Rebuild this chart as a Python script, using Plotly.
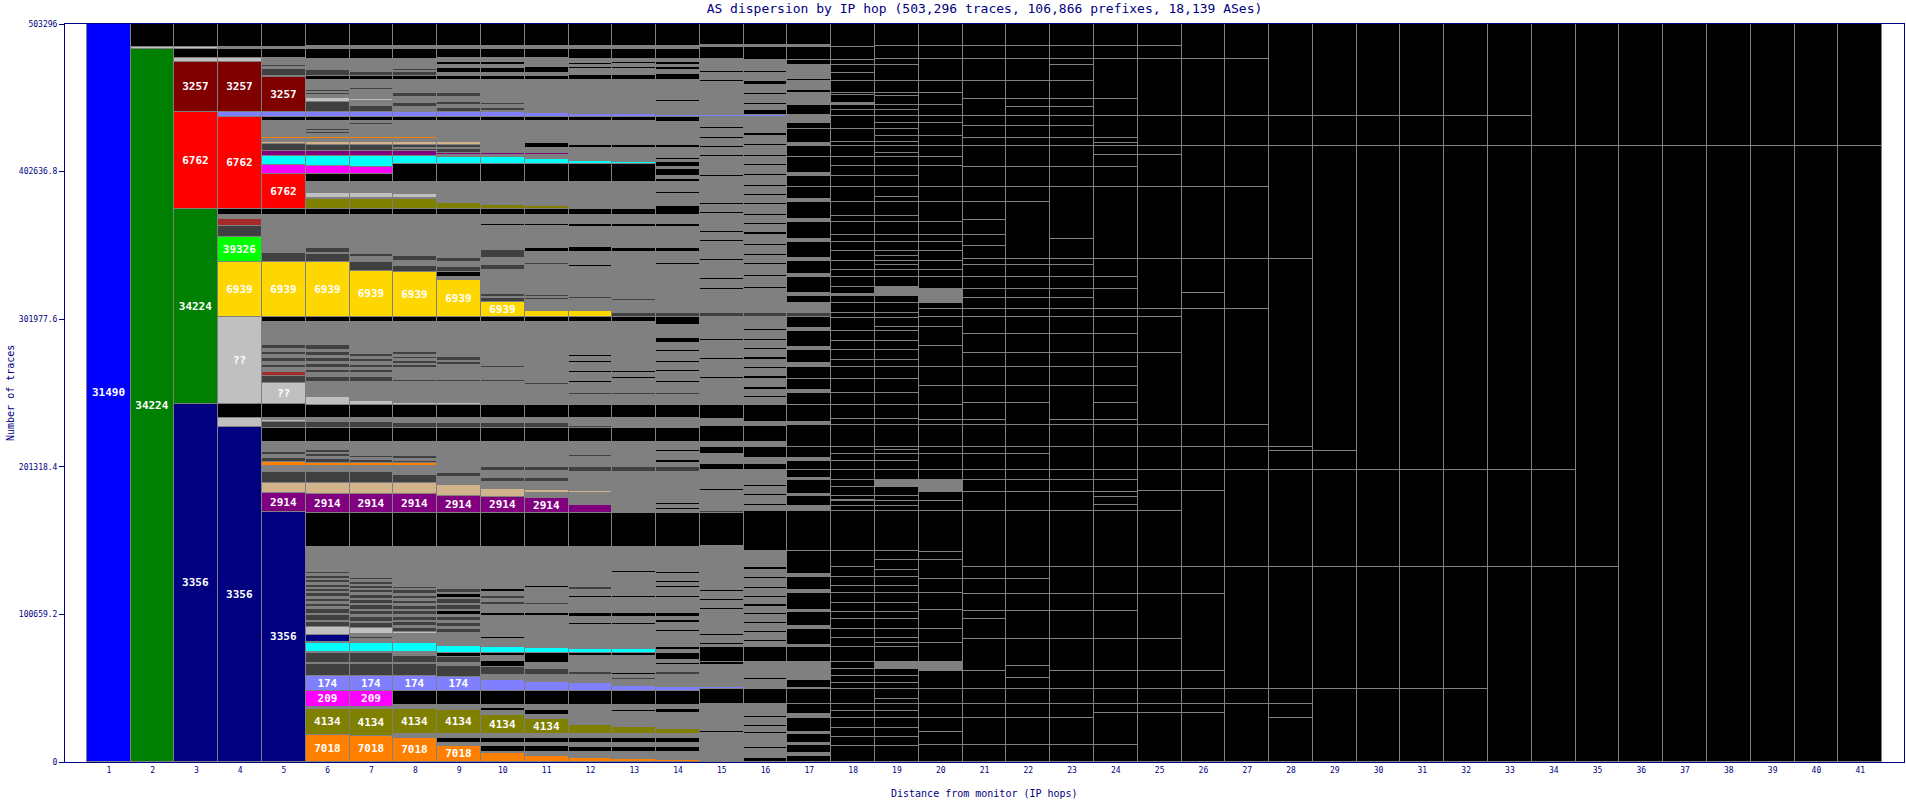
import plotly.graph_objects as go

TOTAL = 503.296  # thousands of traces
hops = list(range(1, 42))
y_ticks = [0, 100659.2, 201318.4, 301977.6, 402636.8, 503296]
y_ticktext = ["0", "100659.2", "201318.4", "301977.6", "402636.8", "503296"]

COLORS = {'B': '#0000ff', 'G': '#008000', 'N': '#000080', 'R': '#ff0000', 'DR': '#800000',
          'Y': '#ffd700', 'LG': '#00ff00', 'Q': '#c0c0c0', 'P': '#800080', 'T': '#d2b48c',
          'O': '#ff8000', 'OL': '#808000', 'M': '#ff00ff', 'LB': '#8080ff', 'C': '#00ffff',
          'BR': '#a52a2a', 'g': '#808080', 'd': '#404040', 'k': '#000000'}

# each hop: cumulative segment tops (thousands of traces), bottom -> top, colour code, optional AS label
hop01 = [(503.296, 'B', '31490')]
hop02 = [(486.3, 'G', '34224'), (487.9, 'Q'), (503.296, 'k')]
hop03 = [(244.0, 'N', '3356'), (377.4, 'G', '34224'), (443.5, 'R', '6762'), (477.6, 'DR', '3257'),
         (479.9, 'Q'), (486.3, 'k'), (487.9, 'Q'), (503.296, 'k')]
hop04 = [(228.7, 'N', '3356'), (234.4, 'Q'), (244.0, 'k'), (303.3, 'Q', '??'), (341.2, 'Y', '6939'),
         (358.1, 'LG', '39326'), (365.6, 'd'), (370.3, 'BR'), (373.1, 'g'), (377.4, 'k'),
         (439.7, 'R', '6762'), (443.5, 'LB'), (477.6, 'DR', '3257'), (479.9, 'Q'), (486.3, 'k'),
         (487.9, 'g'), (503.296, 'k')]
hop05 = [(170.7, 'N', '3356'), (183.3, 'P', '2914'), (190.5, 'T'), (198.0, 'd'), (201.9, 'g'), (204.4, 'O'),
         (207.0, 'd'), (209.5, 'g'), (211.5, 'd'), (213.5, 'g'), (213.9, 'M'), (218.0, 'g'), (228.0, 'k'),
         (232.1, 'd'), (233.4, 'Q'), (234.4, 'g'), (244.0, 'k'), (258.7, 'Q', '??'), (263.3, 'd'),
         (266.2, 'BR'), (268.5, 'g'), (271.0, 'd'), (273.0, 'g'), (275.5, 'd'), (277.5, 'g'), (279.5, 'd'),
         (281.5, 'g'), (284.4, 'd'), (300.3, 'g'), (303.3, 'k'), (341.2, 'Y', '6939'), (346.9, 'd'),
         (373.1, 'g'), (377.4, 'k'), (400.8, 'R', '6762'), (407.2, 'M'), (413.5, 'C'), (416.7, 'P'),
         (421.5, 'd'), (423.0, 'T'), (424.9, 'g'), (426.5, 'O'), (428.0, 'g'), (429.0, 'Q'), (437.2, 'g'),
         (439.7, 'k'), (443.5, 'LB'), (467.4, 'DR', '3257'), (468.0, 'k'), (472.6, 'd'), (474.0, 'g'),
         (475.0, 'd'), (478.1, 'g'), (478.8, 'Y'), (479.9, 'g'), (486.3, 'k'), (487.9, 'g'), (503.296, 'k')]
hop06 = [(18.4, 'O', '7018'), (36.1, 'OL', '4134'), (37.3, 'g'), (48.6, 'M', '209'), (58.9, 'LB', '174'),
         (66.6, 'd'), (67.3, 'g'), (74.1, 'd'), (75.2, 'g'), (81.0, 'C'), (82.0, 'g'), (86.6, 'N'), (92.3, 'Q'),
         (95.5, 'd'), (96.5, 'g'), (100.0, 'd'), (101.0, 'g'), (104.5, 'd'), (105.5, 'g'), (108.0, 'd'),
         (109.0, 'g'), (111.5, 'd'), (112.5, 'g'), (115.0, 'd'), (116.0, 'g'), (118.0, 'd'), (119.0, 'g'),
         (121.0, 'd'), (122.0, 'g'), (124.0, 'd'), (125.0, 'g'), (127.0, 'd'), (128.0, 'g'), (129.5, 'd'),
         (130.9, 'g'), (146.8, 'g'), (169.6, 'k'), (182.8, 'P', '2914'), (190.1, 'T'), (197.6, 'd'),
         (201.9, 'g'), (204.1, 'O'), (206.5, 'd'), (208.0, 'g'), (210.0, 'd'), (211.0, 'g'), (212.8, 'd'),
         (218.0, 'g'), (227.6, 'k'), (231.7, 'd'), (234.4, 'g'), (243.5, 'k'), (248.7, 'Q'), (259.0, 'g'),
         (262.8, 'd'), (265.0, 'g'), (267.5, 'd'), (269.0, 'g'), (271.5, 'd'), (273.0, 'g'), (275.5, 'd'),
         (277.0, 'g'), (279.5, 'd'), (281.0, 'g'), (284.4, 'd'), (300.3, 'g'), (303.3, 'k'),
         (341.2, 'Y', '6939'), (346.3, 'd'), (347.4, 'g'), (350.3, 'd'), (373.1, 'g'), (377.4, 'k'),
         (384.0, 'OL'), (384.9, 'g'), (388.3, 'Q'), (390.5, 'g'), (391.5, 'd'), (395.8, 'g'), (401.0, 'k'),
         (406.7, 'M'), (413.5, 'C'), (416.7, 'P'), (420.8, 'd'), (423.0, 'T'), (424.9, 'g'), (426.5, 'O'),
         (428.5, 'g'), (429.5, 'd'), (430.5, 'g'), (431.5, 'd'), (437.4, 'g'), (439.7, 'k'), (443.5, 'LB'),
         (449.9, 'd'), (453.1, 'Q'), (455.0, 'g'), (456.0, 'd'), (457.0, 'g'), (458.3, 'd'), (465.1, 'g'),
         (467.9, 'k'), (471.9, 'd'), (477.9, 'g'), (478.8, 'Y'), (479.4, 'g'), (486.3, 'k'), (488.3, 'g'),
         (503.296, 'k')]
hop07 = [(17.9, 'O', '7018'), (36.1, 'OL', '4134'), (37.3, 'g'), (48.6, 'M', '209'), (58.9, 'LB', '174'),
         (66.6, 'd'), (67.3, 'g'), (74.1, 'd'), (75.2, 'g'), (81.0, 'C'), (84.0, 'g'), (85.0, 'd'), (87.1, 'g'),
         (91.6, 'Q'), (94.5, 'd'), (95.5, 'g'), (99.0, 'd'), (100.0, 'g'), (103.0, 'd'), (104.0, 'g'),
         (107.0, 'd'), (108.0, 'g'), (110.5, 'd'), (111.5, 'g'), (114.0, 'd'), (115.0, 'g'), (117.0, 'd'),
         (118.0, 'g'), (120.0, 'd'), (121.0, 'g'), (123.0, 'd'), (124.0, 'g'), (125.3, 'd'), (126.4, 'g'),
         (146.8, 'g'), (169.6, 'k'), (182.8, 'P', '2914'), (190.1, 'T'), (197.6, 'd'), (201.9, 'g'),
         (204.1, 'O'), (206.0, 'd'), (207.0, 'g'), (208.5, 'd'), (218.0, 'g'), (227.6, 'k'), (231.7, 'd'),
         (234.4, 'g'), (243.5, 'k'), (246.4, 'Q'), (259.0, 'g'), (262.6, 'd'), (265.0, 'g'), (267.0, 'd'),
         (268.5, 'g'), (271.0, 'd'), (272.5, 'g'), (275.0, 'd'), (276.5, 'g'), (278.5, 'd'), (281.0, 'g'),
         (300.3, 'g'), (303.3, 'k'), (335.1, 'Y', '6939'), (341.0, 'd'), (344.4, 'g'), (346.4, 'd'),
         (373.1, 'g'), (377.4, 'k'), (384.0, 'OL'), (384.9, 'g'), (387.9, 'Q'), (390.0, 'g'), (391.0, 'd'),
         (395.8, 'g'), (401.0, 'k'), (405.6, 'M'), (413.5, 'C'), (416.7, 'P'), (420.8, 'd'), (423.0, 'T'),
         (424.9, 'g'), (426.5, 'O'), (434.5, 'g'), (435.5, 'd'), (437.4, 'g'), (439.7, 'k'), (443.5, 'LB'),
         (447.4, 'd'), (450.8, 'g'), (452.0, 'Q'), (456.0, 'g'), (457.0, 'd'), (458.5, 'g'), (459.5, 'd'),
         (465.1, 'g'), (467.9, 'k'), (470.8, 'd'), (477.9, 'g'), (478.8, 'Y'), (479.4, 'g'), (486.3, 'k'),
         (488.3, 'g'), (503.296, 'k')]
hop08 = [(16.6, 'O', '7018'), (19.1, 'g'), (36.1, 'OL', '4134'), (38.9, 'g'), (48.6, 'k'), (58.9, 'LB', '174'),
         (66.6, 'd'), (67.5, 'g'), (72.5, 'd'), (75.2, 'g'), (81.0, 'C'), (87.3, 'g'), (88.9, 'Q'),
         (91.5, 'd'), (92.5, 'g'), (95.5, 'd'), (96.5, 'g'), (99.0, 'd'), (100.0, 'g'), (103.0, 'd'),
         (104.0, 'g'), (106.5, 'd'), (107.5, 'g'), (110.0, 'd'), (111.0, 'g'), (113.5, 'd'), (114.5, 'g'),
         (117.0, 'd'), (118.0, 'g'), (119.5, 'd'), (120.7, 'g'), (146.8, 'g'), (169.6, 'k'),
         (182.8, 'P', '2914'), (190.1, 'T'), (195.7, 'd'), (201.9, 'g'), (204.1, 'O'), (205.5, 'd'),
         (206.5, 'g'), (208.7, 'd'), (218.0, 'g'), (227.6, 'k'), (231.0, 'd'), (234.4, 'g'), (243.5, 'k'),
         (245.0, 'Q'), (259.0, 'g'), (260.5, 'd'), (268.7, 'g'), (270.5, 'd'), (271.5, 'g'), (273.5, 'd'),
         (274.5, 'g'), (276.5, 'd'), (277.5, 'g'), (279.8, 'd'), (300.3, 'g'), (303.3, 'k'),
         (334.4, 'Y', '6939'), (338.3, 'd'), (341.9, 'g'), (345.1, 'd'), (373.1, 'g'), (377.4, 'k'),
         (384.0, 'OL'), (384.9, 'g'), (387.4, 'Q'), (395.8, 'g'), (407.8, 'k'), (413.5, 'C'), (416.7, 'P'),
         (418.0, 'd'), (419.0, 'g'), (420.8, 'd'), (423.0, 'T'), (424.9, 'g'), (426.5, 'O'), (437.4, 'g'),
         (439.7, 'k'), (443.5, 'LB'), (446.7, 'g'), (449.6, 'd'), (453.7, 'g'), (456.5, 'd'), (465.1, 'g'),
         (467.9, 'k'), (470.5, 'd'), (471.5, 'g'), (472.6, 'd'), (477.9, 'g'), (478.8, 'Y'), (479.4, 'g'),
         (486.3, 'k'), (488.3, 'g'), (503.296, 'k')]
hop09 = [(10.9, 'O', '7018'), (13.0, 'g'), (16.6, 'k'), (19.1, 'g'), (35.5, 'OL', '4134'), (38.9, 'g'),
         (48.6, 'k'), (58.2, 'LB', '174'), (65.5, 'd'), (67.3, 'g'), (71.8, 'd'), (74.1, 'k'), (79.1, 'C'),
         (87.3, 'g'), (88.2, 'Q'), (91.0, 'd'), (92.0, 'g'), (95.0, 'd'), (96.0, 'g'), (99.0, 'd'),
         (100.0, 'g'), (103.0, 'k'), (104.0, 'g'), (107.0, 'd'), (108.0, 'g'), (111.0, 'd'), (112.0, 'g'),
         (114.5, 'k'), (115.5, 'g'), (118.0, 'd'), (119.6, 'g'), (146.8, 'g'), (169.6, 'k'),
         (181.4, 'P', '2914'), (188.9, 'T'), (194.2, 'g'), (197.0, 'd'), (201.7, 'g'), (202.5, 'O'),
         (218.0, 'g'), (227.6, 'k'), (231.4, 'd'), (234.4, 'g'), (243.5, 'k'), (245.0, 'Q'), (259.0, 'g'),
         (260.5, 'd'), (270.8, 'g'), (272.5, 'd'), (273.5, 'g'), (276.4, 'd'), (300.3, 'g'), (303.3, 'k'),
         (328.7, 'Y', '6939'), (331.0, 'g'), (334.4, 'k'), (337.8, 'd'), (341.0, 'g'), (343.5, 'd'),
         (373.1, 'g'), (377.4, 'k'), (381.4, 'OL'), (384.6, 'g'), (385.5, 'Q'), (395.8, 'g'), (407.8, 'k'),
         (412.8, 'C'), (413.9, 'g'), (415.5, 'P'), (418.0, 'd'), (419.0, 'g'), (420.8, 'd'), (423.0, 'T'),
         (424.9, 'g'), (425.8, 'O'), (437.4, 'g'), (439.7, 'k'), (443.1, 'LB'), (443.5, 'g'), (446.2, 'd'),
         (448.1, 'g'), (449.9, 'd'), (453.7, 'g'), (456.5, 'd'), (465.1, 'g'), (467.9, 'k'), (470.1, 'g'),
         (473.1, 'k'), (475.4, 'g'), (477.2, 'k'), (479.9, 'g'), (486.3, 'k'), (488.3, 'g'), (503.296, 'k')]
hop10 = [(5.9, 'O'), (6.8, 'g'), (10.9, 'k'), (12.8, 'g'), (16.6, 'k'), (19.1, 'g'), (32.1, 'OL', '4134'),
         (34.8, 'g'), (37.0, 'k'), (38.9, 'g'), (48.6, 'k'), (55.9, 'LB'), (59.3, 'g'), (65.0, 'd'),
         (68.9, 'k'), (72.3, 'g'), (74.3, 'k'), (78.6, 'C'), (84.0, 'g'), (85.0, 'k'), (90.0, 'g'), (91.0, 'd'),
         (96.0, 'g'), (97.0, 'k'), (99.6, 'g'), (101.8, 'k'), (107.1, 'g'), (109.0, 'd'), (111.0, 'g'),
         (113.0, 'd'), (115.9, 'g'), (118.0, 'k'), (119.0, 'g'), (128.2, 'g'), (129.1, 'k'), (146.8, 'g'),
         (169.6, 'k'), (180.9, 'P', '2914'), (186.2, 'T'), (191.2, 'g'), (193.9, 'd'), (198.7, 'g'),
         (201.4, 'd'), (208.0, 'g'), (208.7, 'd'), (218.0, 'g'), (227.6, 'k'), (231.4, 'd'), (234.4, 'g'),
         (243.5, 'k'), (250.3, 'g'), (251.0, 'd'), (259.0, 'g'), (260.5, 'd'), (268.7, 'g'), (270.0, 'd'),
         (277.6, 'g'), (278.5, 'd'), (300.3, 'g'), (303.3, 'k'), (313.9, 'Y', '6939'), (316.2, 'd'),
         (316.9, 'g'), (319.2, 'd'), (319.7, 'g'), (320.3, 'Q'), (335.5, 'g'), (339.0, 'd'), (343.7, 'g'),
         (349.2, 'd'), (365.6, 'g'), (367.0, 'k'), (373.1, 'g'), (377.4, 'k'), (379.9, 'OL'), (388.7, 'g'),
         (389.6, 'd'), (395.8, 'g'), (407.8, 'k'), (412.4, 'C'), (413.9, 'g'), (415.5, 'P'), (421.5, 'g'),
         (422.2, 'k'), (424.9, 'g'), (425.6, 'O'), (437.4, 'g'), (439.7, 'k'), (443.1, 'LB'), (444.2, 'g'),
         (446.2, 'd'), (448.1, 'g'), (449.6, 'd'), (453.3, 'g'), (454.2, 'd'), (465.1, 'g'), (467.9, 'k'),
         (470.1, 'g'), (473.1, 'k'), (475.4, 'g'), (477.2, 'k'), (479.9, 'g'), (486.3, 'k'), (488.3, 'g'),
         (503.296, 'k')]
hop11 = [(4.3, 'O'), (6.8, 'g'), (10.9, 'k'), (12.8, 'g'), (16.6, 'k'), (19.1, 'g'), (29.1, 'OL', '4134'),
         (32.1, 'g'), (35.5, 'k'), (38.9, 'g'), (48.6, 'k'), (54.4, 'LB'), (59.3, 'g'), (63.2, 'd'),
         (67.5, 'g'), (74.3, 'k'), (77.5, 'C'), (85.0, 'g'), (86.0, 'k'), (92.0, 'g'), (93.0, 'k'), (99.6, 'g'),
         (101.8, 'k'), (107.1, 'g'), (108.4, 'd'), (118.7, 'g'), (120.1, 'k'), (128.2, 'g'), (129.1, 'k'),
         (146.8, 'g'), (169.6, 'k'), (179.8, 'P', '2914'), (183.3, 'g'), (185.5, 'T'), (191.2, 'g'),
         (193.6, 'd'), (198.7, 'g'), (201.0, 'd'), (208.0, 'g'), (208.9, 'd'), (218.0, 'g'), (227.6, 'k'),
         (231.4, 'd'), (234.4, 'g'), (243.5, 'k'), (257.1, 'g'), (258.5, 'd'), (278.9, 'g'), (279.8, 'd'),
         (300.3, 'g'), (303.3, 'k'), (307.8, 'Y'), (315.3, 'g'), (316.2, 'd'), (317.3, 'g'), (318.5, 'd'),
         (339.0, 'g'), (340.5, 'd'), (347.6, 'g'), (350.3, 'k'), (365.6, 'g'), (367.0, 'k'), (373.1, 'g'),
         (377.4, 'k'), (379.4, 'OL'), (388.7, 'g'), (389.6, 'd'), (395.8, 'g'), (407.8, 'k'), (411.0, 'C'),
         (413.9, 'g'), (415.1, 'P'), (419.0, 'g'), (422.2, 'k'), (437.4, 'g'), (439.7, 'k'), (442.4, 'LB'),
         (444.0, 'g'), (444.7, 'd'), (465.1, 'g'), (467.9, 'k'), (470.1, 'g'), (474.2, 'k'), (476.5, 'g'),
         (477.6, 'k'), (479.9, 'g'), (486.3, 'k'), (488.3, 'g'), (503.296, 'k')]
hop12 = [(2.9, 'O'), (6.6, 'g'), (10.4, 'k'), (12.8, 'g'), (16.6, 'k'), (19.1, 'g'), (25.2, 'OL'), (38.9, 'g'),
         (48.6, 'k'), (53.7, 'LB'), (59.3, 'g'), (61.6, 'd'), (72.3, 'g'), (74.3, 'k'), (76.9, 'C'), (93.4, 'g'),
         (94.6, 'k'), (99.0, 'g'), (101.8, 'k'), (111.8, 'g'), (113.0, 'k'), (117.3, 'g'), (119.4, 'd'),
         (128.2, 'g'), (129.1, 'k'), (146.8, 'g'), (169.6, 'k'), (175.3, 'P'), (183.3, 'g'), (185.0, 'T'),
         (197.9, 'g'), (201.4, 'd'), (208.0, 'g'), (209.2, 'd'), (218.0, 'g'), (227.6, 'k'), (229.4, 'd'),
         (234.4, 'g'), (243.5, 'k'), (250.3, 'g'), (251.5, 'd'), (258.5, 'g'), (259.6, 'k'), (265.3, 'g'),
         (266.5, 'k'), (272.1, 'g'), (273.3, 'k'), (276.4, 'g'), (277.6, 'k'), (300.3, 'g'), (303.3, 'k'),
         (307.8, 'Y'), (315.8, 'g'), (316.9, 'd'), (337.8, 'g'), (339.0, 'k'), (347.6, 'g'), (351.4, 'k'),
         (364.7, 'g'), (367.0, 'k'), (373.1, 'g'), (377.4, 'k'), (378.1, 'OL'), (389.0, 'g'), (389.6, 'd'),
         (395.8, 'g'), (407.8, 'k'), (410.1, 'C'), (413.9, 'g'), (414.7, 'P'), (418.6, 'g'), (420.8, 'k'),
         (437.4, 'g'), (439.7, 'k'), (441.7, 'LB'), (465.1, 'g'), (468.5, 'k'), (472.4, 'g'), (474.2, 'k'),
         (475.4, 'g'), (477.0, 'k'), (479.4, 'g'), (486.3, 'k'), (488.3, 'g'), (503.296, 'k')]
hop13 = [(2.0, 'O'), (6.6, 'g'), (10.4, 'k'), (12.8, 'g'), (16.6, 'k'), (19.1, 'g'), (24.1, 'OL'), (34.3, 'g'),
         (35.5, 'k'), (38.9, 'g'), (48.6, 'k'), (52.0, 'LB'), (55.9, 'g'), (57.1, 'd'), (59.3, 'g'),
         (60.5, 'k'), (72.3, 'g'), (74.3, 'k'), (76.9, 'C'), (93.4, 'g'), (94.6, 'k'), (99.0, 'g'),
         (101.8, 'k'), (111.8, 'g'), (113.0, 'k'), (118.4, 'g'), (119.6, 'k'), (123.0, 'g'), (123.7, 'k'),
         (129.2, 'g'), (130.3, 'k'), (146.8, 'g'), (169.6, 'k'), (173.0, 'g'), (174.1, 'P'), (183.3, 'g'),
         (184.3, 'k'), (197.9, 'g'), (201.4, 'd'), (204.1, 'g'), (204.8, 'k'), (211.9, 'g'), (212.8, 'k'),
         (218.0, 'g'), (227.6, 'k'), (228.7, 'd'), (234.4, 'g'), (243.5, 'k'), (250.3, 'g'), (251.5, 'd'),
         (261.2, 'g'), (262.4, 'k'), (265.3, 'g'), (266.5, 'k'), (269.4, 'g'), (270.3, 'k'), (276.1, 'g'),
         (277.0, 'k'), (300.3, 'g'), (303.3, 'k'), (306.4, 'd'), (308.7, 'g'), (309.6, 'd'), (314.4, 'g'),
         (316.0, 'd'), (347.6, 'g'), (350.8, 'k'), (357.8, 'g'), (358.7, 'k'), (364.7, 'g'), (367.0, 'k'),
         (373.1, 'g'), (377.4, 'k'), (378.1, 'OL'), (389.4, 'g'), (390.1, 'd'), (395.8, 'g'), (407.8, 'k'),
         (409.0, 'C'), (411.0, 'g'), (411.7, 'k'), (418.6, 'g'), (420.8, 'k'), (437.4, 'g'), (439.7, 'k'),
         (441.7, 'LB'), (450.1, 'g'), (450.8, 'k'), (465.1, 'g'), (468.5, 'k'), (472.4, 'g'), (474.2, 'k'),
         (476.0, 'g'), (477.6, 'k'), (479.4, 'g'), (486.3, 'k'), (488.3, 'g'), (503.296, 'k')]
hop14 = [(1.4, 'O'), (6.6, 'g'), (10.4, 'k'), (12.8, 'g'), (16.6, 'k'), (19.1, 'g'), (22.3, 'OL'), (33.2, 'g'),
         (35.9, 'k'), (38.9, 'g'), (48.6, 'k'), (51.4, 'LB'), (59.3, 'g'), (61.6, 'd'), (66.2, 'g'),
         (67.3, 'k'), (69.6, 'g'), (74.1, 'k'), (76.4, 'g'), (78.6, 'k'), (88.9, 'g'), (90.0, 'k'), (95.0, 'g'),
         (96.8, 'k'), (99.0, 'g'), (101.8, 'k'), (104.8, 'g'), (105.9, 'k'), (111.6, 'g'), (113.2, 'k'),
         (118.4, 'g'), (120.0, 'k'), (121.9, 'g'), (123.7, 'k'), (128.2, 'g'), (129.8, 'k'), (146.8, 'g'),
         (169.6, 'k'), (171.9, 'g'), (173.0, 'k'), (175.3, 'g'), (176.4, 'k'), (197.9, 'g'), (200.9, 'd'),
         (204.1, 'g'), (206.0, 'k'), (211.4, 'g'), (212.8, 'k'), (218.0, 'g'), (227.6, 'k'), (228.7, 'd'),
         (234.4, 'g'), (243.5, 'k'), (250.3, 'g'), (251.5, 'd'), (258.3, 'g'), (259.8, 'k'), (266.2, 'g'),
         (267.3, 'k'), (272.1, 'g'), (273.3, 'k'), (275.3, 'g'), (276.4, 'k'), (279.8, 'g'), (281.0, 'k'),
         (285.8, 'g'), (289.2, 'k'), (298.1, 'g'), (303.3, 'k'), (306.4, 'd'), (314.4, 'g'), (315.1, 'd'),
         (339.0, 'g'), (340.1, 'k'), (347.6, 'g'), (350.8, 'k'), (357.8, 'g'), (358.7, 'k'), (364.7, 'g'),
         (367.0, 'k'), (373.1, 'g'), (379.2, 'k'), (387.7, 'g'), (388.7, 'k'), (395.8, 'g'), (397.6, 'k'),
         (399.4, 'g'), (404.1, 'k'), (406.0, 'g'), (409.4, 'k'), (410.6, 'g'), (411.7, 'k'), (413.9, 'g'),
         (414.7, 'k'), (418.6, 'g'), (420.8, 'k'), (426.9, 'g'), (427.6, 'k'), (436.7, 'g'), (439.7, 'k'),
         (441.3, 'LB'), (450.3, 'g'), (451.5, 'k'), (465.1, 'g'), (469.2, 'k'), (471.9, 'g'), (474.2, 'k'),
         (475.4, 'g'), (477.6, 'k'), (479.4, 'g'), (486.3, 'k'), (488.3, 'g'), (503.296, 'k')]
hop15 = [(2.0, 'g'), (3.0, 'k'), (6.0, 'g'), (7.0, 'k'), (10.6, 'g'), (11.6, 'k'), (15.0, 'g'), (16.0, 'k'),
         (20.0, 'g'), (21.0, 'k'), (25.0, 'g'), (26.0, 'k'), (29.9, 'g'), (31.0, 'k'), (34.7, 'g'), (35.7, 'k'),
         (39.5, 'g'), (49.8, 'k'), (51.0, 'LB'), (66.0, 'g'), (68.5, 'k'), (78.1, 'k'), (80.0, 'g'),
         (81.4, 'k'), (86.0, 'g'), (87.0, 'k'), (92.0, 'g'), (93.0, 'k'), (98.0, 'g'), (99.0, 'k'),
         (104.0, 'g'), (105.0, 'k'), (110.0, 'g'), (111.0, 'k'), (116.0, 'g'), (117.0, 'k'), (122.0, 'g'),
         (123.0, 'k'), (128.0, 'g'), (129.0, 'k'), (135.0, 'g'), (136.0, 'k'), (147.3, 'g'), (169.8, 'k'),
         (171.4, 'd'), (178.0, 'g'), (179.0, 'k'), (185.0, 'g'), (186.0, 'k'), (192.3, 'g'), (193.3, 'k'),
         (198.8, 'g'), (203.0, 'k'), (205.2, 'g'), (206.2, 'k'), (210.0, 'g'), (214.9, 'k'), (218.0, 'g'),
         (229.0, 'k'), (234.2, 'g'), (243.8, 'k'), (248.0, 'g'), (249.0, 'k'), (255.0, 'g'), (256.0, 'k'),
         (261.5, 'g'), (262.5, 'k'), (267.0, 'g'), (268.0, 'k'), (274.4, 'g'), (275.4, 'k'), (280.8, 'g'),
         (281.8, 'k'), (287.2, 'g'), (288.2, 'k'), (296.0, 'g'), (297.0, 'k'), (303.4, 'g'), (305.9, 'd'),
         (322.0, 'g'), (323.0, 'k'), (329.0, 'g'), (330.0, 'k'), (335.5, 'g'), (336.5, 'k'), (341.9, 'g'),
         (343.0, 'k'), (348.4, 'g'), (349.4, 'k'), (354.8, 'g'), (355.8, 'k'), (361.0, 'g'), (362.0, 'k'),
         (368.0, 'g'), (369.0, 'k'), (374.0, 'g'), (375.0, 'k'), (380.0, 'g'), (381.0, 'k'), (386.0, 'g'),
         (387.0, 'k'), (391.8, 'g'), (393.0, 'k'), (399.0, 'g'), (400.0, 'k'), (405.0, 'g'), (406.0, 'k'),
         (412.7, 'g'), (413.7, 'k'), (419.0, 'g'), (420.0, 'k'), (425.0, 'g'), (426.0, 'k'), (432.0, 'g'),
         (433.0, 'k'), (439.7, 'g'), (441.3, 'LB'), (446.0, 'g'), (447.0, 'k'), (452.0, 'g'), (453.0, 'k'),
         (458.0, 'g'), (459.0, 'k'), (464.0, 'g'), (465.0, 'k'), (470.0, 'g'), (471.0, 'k'), (474.0, 'g'),
         (479.4, 'g'), (487.7, 'k'), (488.8, 'g'), (503.296, 'k')]
hop16 = [(2.5, 'k'), (4.0, 'g'), (5.0, 'k'), (9.0, 'g'), (10.0, 'k'), (14.0, 'g'), (15.0, 'k'), (19.0, 'g'),
         (20.2, 'k'), (24.0, 'g'), (25.0, 'k'), (29.9, 'g'), (31.5, 'k'), (36.0, 'g'), (37.0, 'k'), (39.5, 'g'),
         (49.8, 'k'), (50.4, 'LB'), (56.0, 'g'), (57.0, 'k'), (68.5, 'g'), (78.1, 'k'), (82.0, 'g'),
         (83.0, 'k'), (88.0, 'g'), (89.5, 'k'), (94.0, 'g'), (95.5, 'k'), (100.0, 'g'), (101.5, 'k'),
         (106.0, 'g'), (107.5, 'k'), (112.0, 'g'), (113.5, 'k'), (118.0, 'g'), (119.5, 'k'), (124.8, 'g'),
         (126.4, 'k'), (131.2, 'g'), (132.8, 'k'), (144.1, 'g'), (171.4, 'k'), (174.6, 'g'), (176.0, 'k'),
         (181.1, 'g'), (182.5, 'k'), (187.5, 'g'), (189.0, 'k'), (192.3, 'g'), (198.8, 'g'), (203.0, 'k'),
         (207.0, 'g'), (214.9, 'k'), (218.0, 'g'), (229.0, 'k'), (232.0, 'g'), (243.8, 'k'), (248.0, 'g'),
         (249.5, 'k'), (254.0, 'g'), (255.5, 'k'), (261.5, 'g'), (263.0, 'k'), (268.0, 'g'), (269.6, 'k'),
         (274.4, 'g'), (276.0, 'k'), (280.8, 'g'), (282.3, 'k'), (287.2, 'g'), (288.7, 'k'), (293.7, 'g'),
         (295.2, 'k'), (303.4, 'g'), (305.9, 'd'), (322.6, 'g'), (324.2, 'k'), (330.7, 'g'), (332.2, 'k'),
         (338.7, 'g'), (340.2, 'k'), (345.2, 'g'), (346.7, 'k'), (352.0, 'g'), (353.5, 'k'), (359.7, 'g'),
         (361.2, 'k'), (366.0, 'g'), (367.5, 'k'), (372.5, 'g'), (374.0, 'k'), (380.0, 'g'), (381.5, 'k'),
         (386.0, 'g'), (387.5, 'k'), (391.8, 'g'), (393.5, 'k'), (399.8, 'g'), (401.3, 'k'), (406.3, 'g'),
         (407.8, 'k'), (412.7, 'g'), (414.2, 'k'), (419.8, 'g'), (421.3, 'k'), (427.2, 'g'), (428.7, 'k'),
         (435.9, 'g'), (440.1, 'g'), (441.0, 'LB'), (444.9, 'k'), (448.1, 'g'), (449.6, 'k'), (454.6, 'g'),
         (456.1, 'k'), (462.0, 'g'), (464.2, 'k'), (470.0, 'g'), (471.5, 'k'), (475.5, 'g'), (478.7, 'g'),
         (487.7, 'k'), (488.8, 'g'), (503.296, 'k')]
hop17 = [(4.0, 'k'), (6.0, 'g'), (11.6, 'k'), (13.0, 'g'), (19.0, 'k'), (20.5, 'g'), (29.9, 'k'), (33.0, 'g'),
         (39.5, 'k'), (49.8, 'k'), (50.2, 'LB'), (56.0, 'k'), (63.7, 'g'), (68.5, 'g'), (78.1, 'k'),
         (80.0, 'g'), (91.0, 'k'), (93.0, 'g'), (102.3, 'k'), (104.0, 'g'), (115.1, 'k'), (117.0, 'g'),
         (126.4, 'k'), (128.0, 'g'), (144.1, 'k'), (171.4, 'k'), (174.6, 'g'), (181.1, 'k'), (183.0, 'g'),
         (192.3, 'k'), (194.0, 'g'), (198.8, 'k'), (205.2, 'k'), (207.0, 'g'), (214.9, 'k'), (230.0, 'k'),
         (232.0, 'g'), (243.8, 'k'), (251.9, 'k'), (254.0, 'g'), (261.5, 'k'), (269.6, 'k'), (272.0, 'g'),
         (280.8, 'k'), (283.0, 'g'), (293.7, 'k'), (296.0, 'g'), (303.4, 'k'), (305.9, 'd'), (313.0, 'g'),
         (317.8, 'k'), (320.0, 'g'), (330.7, 'k'), (333.0, 'g'), (341.9, 'k'), (344.0, 'g'), (354.8, 'k'),
         (357.0, 'g'), (368.3, 'k'), (370.0, 'g'), (382.1, 'k'), (384.0, 'g'), (391.8, 'k'), (399.8, 'k'),
         (402.0, 'g'), (412.7, 'k'), (419.8, 'k'), (422.0, 'g'), (432.0, 'k'), (435.9, 'k'), (440.3, 'g'),
         (440.9, 'LB'), (448.1, 'k'), (456.1, 'g'), (458.0, 'k'), (464.2, 'g'), (466.0, 'k'), (475.5, 'g'),
         (478.7, 'k'), (487.7, 'k'), (488.8, 'g'), (503.296, 'k')]
hop18 = [10.6, 17.0, 23.5, 29.9, 34.7, 39.5, 50.1, 54.0, 58.8, 63.7, 68.5, 78.1, 84.6, 91.0, 97.4, 102.3,
         108.7, 115.1, 120.0, 126.4, 132.9, 144.1, 171.4, 174.6, 177.9, (179.0, 'g'), 181.1, 187.5, 192.3,
         198.8, 205.2, 210.0, 214.9, 230.0, 234.2, 243.8, 251.9, 261.5, 269.6, 274.4, 280.8, 287.2, 293.7,
         302.7, 305.9, 313.0, 317.8, (319.2, 'g'), 324.2, 330.7, 335.5, 341.9, 348.4, 354.8, 359.7,
         368.3, 372.5, 382.1, 391.8, 399.8, 406.3, 412.7, 419.8, 423.0, 432.0, 440.7, 444.9,
         448.1, (449.5, 'g'), 454.6, 456.1, 464.2, 470.0, 475.5, 478.7, 487.7]
hop19 = [10.6, 17.0, 23.5, 29.9, 34.7, 39.5, 42.8, 50.1, 54.0, 58.8, (63.7, 'k'), (68.5, 'g'), 78.1, 81.4,
         84.6, 91.0, 97.4, 102.3, 108.7, 115.1, 120.0, 126.4, 131.2, 137.7, 144.1, 171.4, 174.6, 177.9,
         181.1, 187.5, (192.3, 'g'), 198.8, 205.2, 210.0, 212.6, 214.9, 230.0, 234.2, 243.8, 251.9, 261.5,
         269.6, 274.4, 280.8, 287.2, 293.7, 296.9, 302.7, 305.9, 313.0, 317.8, (324.2, 'g'), 330.7, 335.5,
         338.7, 341.9, 345.2, 348.4, 354.8, 359.6, 368.3, 372.5, 382.1, 385.4, 391.8, 399.8, 406.3, 412.7,
         415.0, 419.8, 423.0, 427.2, 432.0, 435.9, 440.7, 444.9, 448.1, 454.5, 456.1, 464.2, 475.4, 479.4,
         488.3]
hop20 = [11.5, 20.2, 29.9, 39.5, 50.1, 62.1, (68.5, 'g'), 81.4, 91.0, 103.9, 115.1, 124.8, 137.7, 143.1,
         171.4, 177.9, 184.3, (192.3, 'g'), 198.8, 210.0, 214.9, 230.0, 233.5, 243.8, 256.7, 269.6, 284.0,
         296.9, 303.3, 309.1, 313.0, (322.6, 'g'), 330.7, 335.5, 341.9, 348.4, 354.8, 359.6, 368.3, 382.1,
         391.8, 406.3, 412.7, 419.8, 427.2, 435.9, 440.7, 448.1, 456.1, 464.2, 479.4, 488.3]
hop21 = [11.5, 29.9, 39.5, 50.1, 62.1, 83.9, 97.4, 103.2, 114.5, 124.8, 132.8, 171.4, 184.3, 192.3, 198.8,
         210.0, 214.9, 230.0, 233.5, 244.8, 256.4, 269.6, 278.6, 292.1, 303.3, 309.1, 316.2, 322.6, 330.7,
         338.7, 342.9, 352.2, 359.6, 369.3, 382.1, 391.8, 405.6, 419.8, 425.6, 433.6, 440.7, 452.0, 464.2,
         479.4, 488.3]
hop22 = [11.5, 29.9, 39.5, 50.1, 57.2, 65.3, 83.9, 103.2, 114.5, 124.8, 132.8, 171.4, 184.3, 192.3, 198.8,
         210.0, 214.9, 230.0, 244.8, 256.4, 269.6, 278.6, 292.1, 303.3, 309.1, 316.2, 322.6, 330.7, 338.7,
         342.9, 382.1, 391.8, 405.6, 419.8, 425.6, 433.6, 440.7, 446.5, 452.0, 464.2, 479.4, 488.3]
hop23 = [11.5, 29.9, 39.5, 50.1, 62.1, 83.9, 103.2, 114.5, 132.8, 171.4, 184.3, 192.3, 198.8, 214.9, 230.0,
         233.5, 256.4, 269.6, 278.6, 292.1, 303.3, 309.1, 316.2, 322.6, 330.7, 338.7, 342.9, 356.4, 391.8,
         405.6, 419.8, 425.6, 433.6, 440.7, 446.5, 452.0, 464.2, 475.4, 479.4, 488.3]
hop24 = [11.5, 33.1, 39.5, 50.1, 62.1, 83.9, 103.2, 114.5, 132.8, 171.4, 175.3, 180.4, 184.3, 192.3, 198.8,
         214.9, 230.0, 233.5, 244.8, 256.4, 269.6, 278.6, 292.1, 303.3, 309.1, 322.6, 330.7, 342.9, 391.8,
         405.6, 414.3, 419.8, 422.4, 425.6, 440.7, 452.0, 479.4, 488.3]
hop25 = [33.1, 39.5, 50.1, 62.1, 83.9, 114.5, 132.8, 171.4, 184.9, 198.8, 214.9, 230.0, 278.6, 303.3, 309.1,
         342.9, 391.8, 413.7, 419.8, 440.7, 479.4, 488.3]
hop26 = [33.1, 39.5, 50.1, 62.1, 114.5, 132.8, 184.9, 198.8, 214.9, 230.0, 309.1, 320.1, 342.9, 391.8, 419.8,
         440.7, 479.4]
hop27 = [39.5, 50.1, 132.8, 198.8, 214.9, 230.0, 309.1, 342.9, 391.8, 419.8, 440.7, 479.4]
hop28 = [29.9, 39.5, 50.1, 132.8, 198.8, 212.0, 214.9, 342.9, 419.8, 440.7]
hop29 = [50.1, 132.8, 198.8, 212.0, 419.8, 440.7]
hop30 = [50.1, 132.8, 198.8, 419.8, 440.7]
hop31 = [50.1, 132.8, 198.8, 419.8, 440.7]
hop32 = [50.1, 132.8, 198.8, 419.8, 440.7]
hop33 = [132.8, 198.8, 419.8, 440.7]
hop34 = [132.8, 198.8, 419.8]
hop35 = [132.8, 419.8]
hop36 = [419.8]
hop37 = [419.8]
hop38 = [419.8]
hop39 = [419.8]
hop40 = [419.8]
hop41 = [419.8]

hop_data = [hop01, hop02, hop03, hop04, hop05, hop06, hop07, hop08, hop09, hop10, hop11, hop12, hop13,
            hop14, hop15, hop16, hop17, hop18, hop19, hop20, hop21, hop22, hop23, hop24, hop25, hop26,
            hop27, hop28, hop29, hop30, hop31, hop32, hop33, hop34, hop35, hop36, hop37, hop38, hop39,
            hop40, hop41]


def segments(seq):
    out = []
    for e in seq:
        if isinstance(e, (int, float)):
            out.append((e, 'k', ''))
        elif len(e) == 2:
            out.append((e[0], e[1], ''))
        else:
            out.append(e)
    if out[-1][0] < TOTAL:
        out.append((TOTAL, 'k', ''))
    res = []
    prev = 0.0
    for top, c, lab in out:
        if top > prev:
            res.append(((top - prev) * 1000.0, COLORS[c], lab))
            prev = top
    return res


stacks = [segments(s) for s in hop_data]
nlev = max(len(s) for s in stacks)

NAVY = '#000080'
MONO = 'DejaVu Sans Mono'
fig = go.Figure()
for i in range(nlev):
    ys, cs, ts = [], [], []
    for s in stacks:
        if i < len(s):
            ys.append(s[i][0]); cs.append(s[i][1]); ts.append(s[i][2])
        else:
            ys.append(None); cs.append('#000000'); ts.append('')
    fig.add_trace(go.Bar(
        x=hops, y=ys, width=1.0,
        marker=dict(color=cs, line=dict(color='#808080', width=1)),
        text=ts, textposition='inside', insidetextanchor='middle', textangle=0,
        textfont=dict(family=MONO, size=11, color='white', weight='bold'),
        hoverinfo='skip', showlegend=False))

fig.update_layout(
    width=1906, height=800, barmode='stack', bargap=0,
    paper_bgcolor='white', plot_bgcolor='white',
    margin=dict(l=65, r=2, t=24, b=38),
    uniformtext=dict(minsize=11, mode='show'),
    title=dict(text='AS dispersion by IP hop (503,296 traces, 106,866 prefixes, 18,139 ASes)',
               x=0.5, xref='paper', xanchor='center', y=1 - 8.5 / 800, yref='container',
               yanchor='middle', font=dict(family=MONO, size=13, color=NAVY)),
    xaxis=dict(range=[0, 42], tickmode='array', tickvals=hops, ticktext=[str(h) for h in hops],
               showgrid=False, zeroline=False, showline=True, mirror=True, linecolor=NAVY, linewidth=1,
               ticks='', tickfont=dict(family=MONO, size=8, color=NAVY)),
    yaxis=dict(range=[0, 503296], tickmode='array', tickvals=y_ticks, ticktext=y_ticktext,
               showgrid=False, zeroline=False, showline=True, mirror=True, linecolor=NAVY, linewidth=1,
               ticks='outside', ticklen=5, tickcolor=NAVY,
               tickfont=dict(family=MONO, size=8, color=NAVY)),
    annotations=[
        dict(text='Number of traces', xref='paper', yref='paper', x=(10 - 65) / 1839, y=0.5,
             textangle=-90, showarrow=False, xanchor='center', yanchor='middle',
             font=dict(family=MONO, size=10, color=NAVY)),
        dict(text='Distance from monitor (IP hops)', xref='paper', yref='paper', x=0.5,
             y=-(793 - 762) / 738, showarrow=False, xanchor='center', yanchor='middle',
             font=dict(family=MONO, size=10, color=NAVY)),
    ],
)

fig.write_html('out.html')
